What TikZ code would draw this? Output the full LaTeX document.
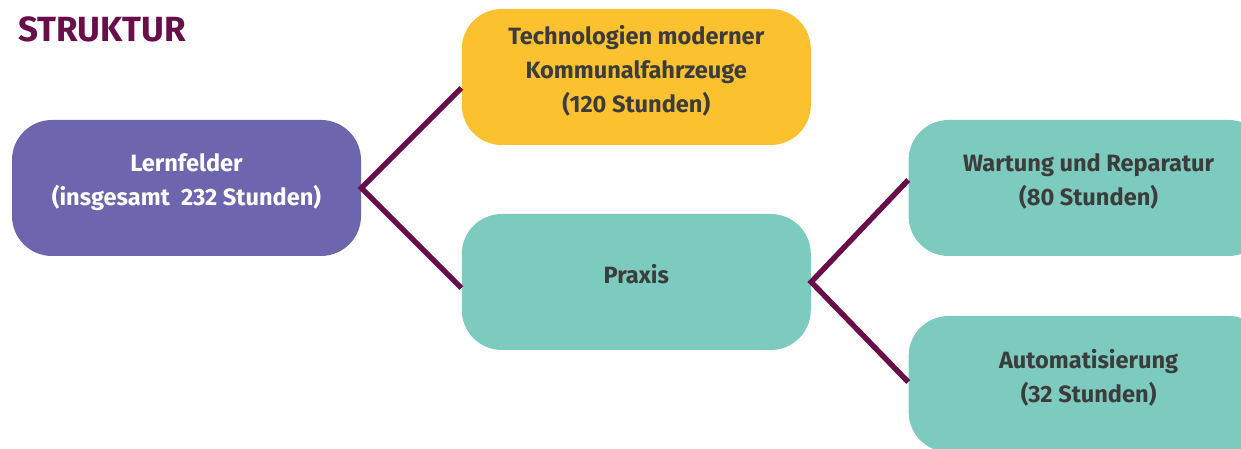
\documentclass[tikz,border=0pt]{standalone}
\usepackage{fontspec}
\setmainfont{Fira Sans}
\usepackage{tikz}
\usetikzlibrary{positioning}
\usetikzlibrary{calc}

\definecolor{pflaume}{HTML}{6A0D4B}
\definecolor{lila}{HTML}{6D66AE}
\definecolor{gelb}{HTML}{FCC12E}
\definecolor{tuerkis}{HTML}{7CCBBE}
\definecolor{schrift}{HTML}{3C3C3C}

\begin{document}
\begin{tikzpicture}[
            x = 0.5pt, y = 0.5pt, % one unit is one pixel of the page
            node distance = 50pt, % gap between the columns
            link/.style = {draw = pflaume, line width = 2.7pt} % connector style
        ]

        \tikzstyle{box}=[
            rectangle,
            rounded corners = 20pt,
            minimum width = 174.5pt,
            minimum height = 68pt,
            align = center,
            text depth = 8pt,
            font = \fontsize{11.8}{17}\selectfont\bfseries,
            text = schrift
        ]

        \useasboundingbox (0,0) rectangle (1241,449);
        \clip (0,0) rectangle (1241,449);

	% title
        \node[anchor = base west, text = pflaume, inner sep = 0pt,
              font = \fontsize{17.5}{20}\selectfont\bfseries] (S) at (18,407) {STRUKTUR};

	% first level
        \node[box, fill = lila, text = white] (L) at (186.5,261) {Lernfelder\\(insgesamt~~232 Stunden)};

	% second level
        \node[box, fill = gelb] (T) [right = of L, yshift = 55.5pt] {Technologien moderner\\Kommunalfahrzeuge\\(120 Stunden)};
        \node[box, fill = tuerkis] (P) [right = of L, yshift = -47pt] {Praxis};

	% third level
        \node[box, fill = tuerkis, minimum width = 180pt] (W) [right = 48.5pt of P, yshift = 47pt] {Wartung und Reparatur\\(80 Stunden)};
        \node[box, fill = tuerkis, minimum width = 180pt] (A) [right = 48.5pt of P, yshift = -51pt] {Automatisierung\\(32 Stunden)};

	% connectors
        \coordinate (LT) at ($(L.east)+(100,100)$);
        \coordinate (LP) at ($(L.east)+(100,-100)$);
        \coordinate (PW) at ($(P.east)+(97,102)$);
        \coordinate (PA) at ($(P.east)+(97,-100)$);

        \path[link] (LT) -- (L.east) -- (LP);
        \path[link] (PW) -- (P.east) -- (PA);

  \end{tikzpicture}
\end{document}
